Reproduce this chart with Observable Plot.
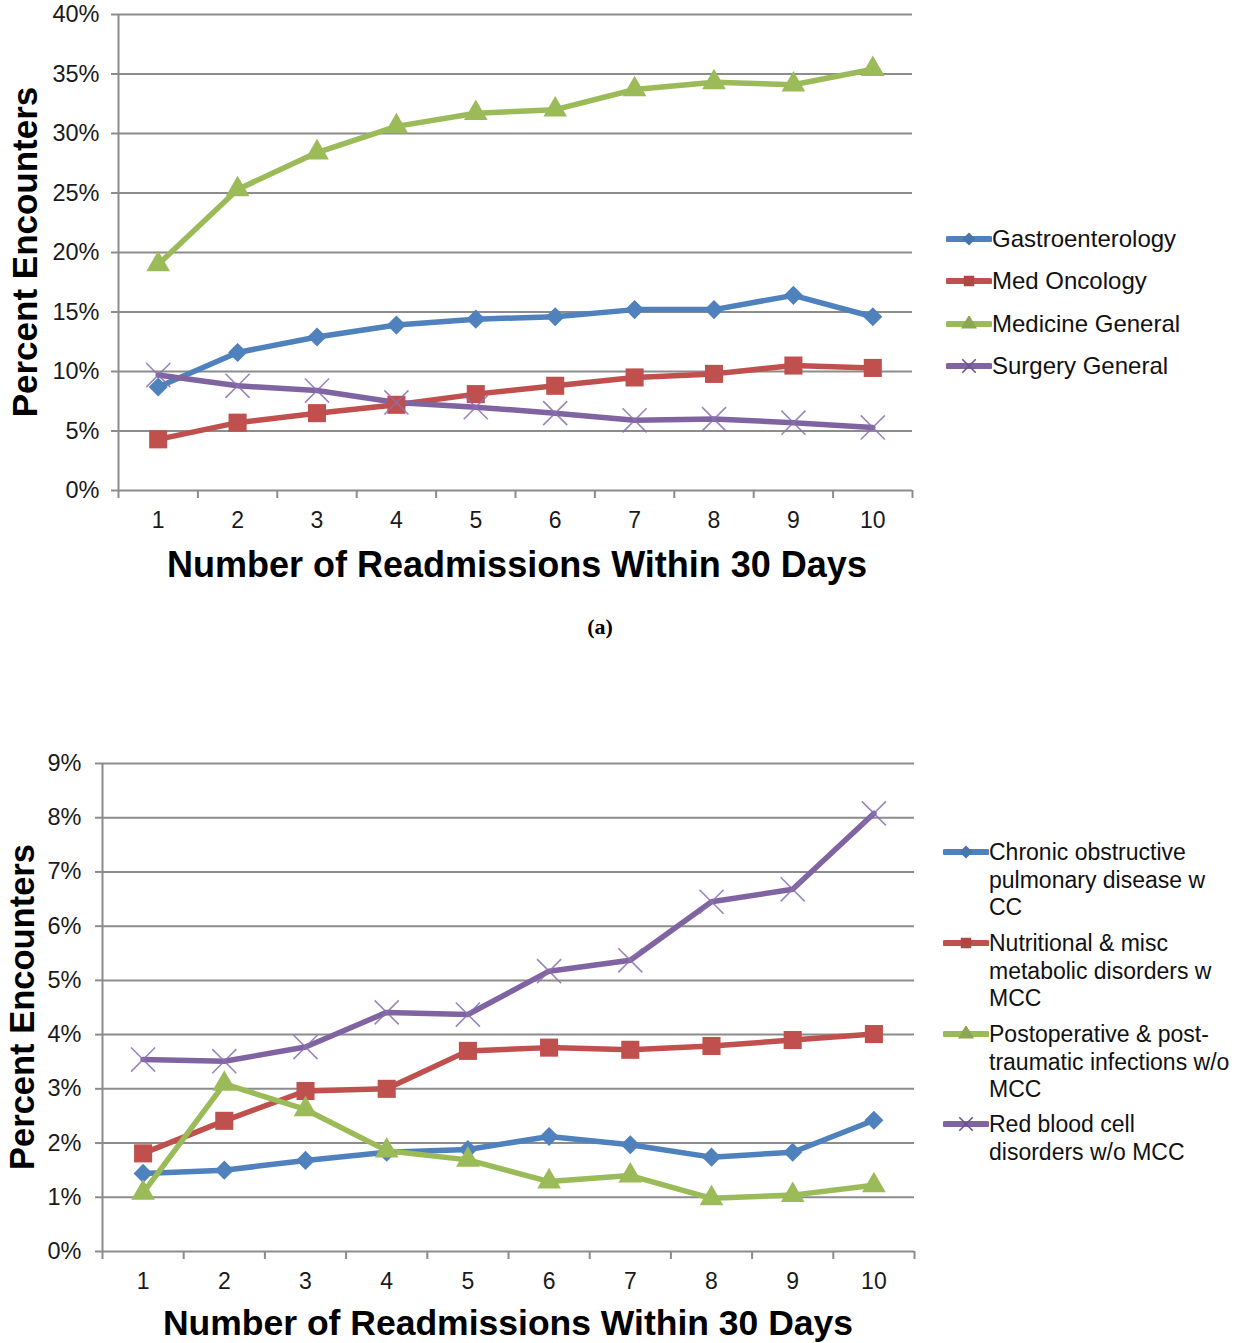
<!DOCTYPE html>
<html><head><meta charset="utf-8">
<script src="https://cdn.jsdelivr.net/npm/d3@7"></script>
<script src="https://cdn.jsdelivr.net/npm/@observablehq/plot@0.6"></script>
<style>
body{margin:0;background:#fff;font-family:"Liberation Sans",Arial,sans-serif;}
#root{position:relative;width:1256px;height:1343px;overflow:hidden;background:#fff;}
.chart{position:absolute;left:0;}
.ytitle{position:absolute;transform:translate(-50%,-50%) rotate(-90deg);white-space:nowrap;font-weight:bold;color:#000;}
.xtitle{position:absolute;transform:translate(-50%,-50%);white-space:nowrap;font-weight:bold;color:#000;}
.leg{position:absolute;display:flex;align-items:flex-start;color:#111;white-space:nowrap;}
.leg svg{flex:none;}
</style></head><body><div id="root"></div>
<script>
// ---------- data ----------
const readmissions = [1, 2, 3, 4, 5, 6, 7, 8, 9, 10];
const colors = ["#4F81BD", "#C0504D", "#9BBB59", "#8064A2"];
const symbols = ["diamond2", "square", "triangle", "times"];

const namesA = ["Gastroenterology", "Med Oncology", "Medicine General", "Surgery General"];
const gastroenterology = [8.7, 11.6, 12.9, 13.9, 14.4, 14.6, 15.2, 15.2, 16.4, 14.6];
const medOncology      = [4.3, 5.7, 6.5, 7.2, 8.1, 8.8, 9.5, 9.8, 10.5, 10.3];
const medicineGeneral  = [19.0, 25.3, 28.4, 30.6, 31.7, 32.0, 33.7, 34.3, 34.1, 35.4];
const surgeryGeneral   = [9.7, 8.8, 8.4, 7.4, 7.0, 6.5, 5.9, 6.0, 5.7, 5.3];
const yTicksA = [0, 5, 10, 15, 20, 25, 30, 35, 40];

const namesB = [
  "Chronic obstructive pulmonary disease w CC",
  "Nutritional & misc metabolic disorders w MCC",
  "Postoperative & post-traumatic infections w/o MCC",
  "Red blood cell disorders w/o MCC"
];
const legendLinesB = [
  ["Chronic obstructive", "pulmonary disease w", "CC"],
  ["Nutritional & misc", "metabolic disorders w", "MCC"],
  ["Postoperative & post-", "traumatic infections w/o", "MCC"],
  ["Red blood cell", "disorders w/o MCC"]
];
const copd        = [1.44, 1.50, 1.68, 1.83, 1.88, 2.12, 1.97, 1.74, 1.83, 2.42];
const nutritional = [1.81, 2.41, 2.96, 3.00, 3.70, 3.76, 3.72, 3.79, 3.90, 4.01];
const postop      = [1.08, 3.09, 2.62, 1.86, 1.69, 1.29, 1.40, 0.98, 1.04, 1.22];
const redBlood    = [3.54, 3.51, 3.77, 4.41, 4.37, 5.17, 5.37, 6.45, 6.68, 8.08];
const yTicksB = [0, 1, 2, 3, 4, 5, 6, 7, 8, 9];

const xTitle = "Number of Readmissions Within 30 Days";
const yTitle = "Percent Encounters";
const subLabel = "(a)";

// ---------- helpers ----------
function toRows(names, series) {
  const rows = [];
  names.forEach((s, i) => series[i].forEach((v, j) => rows.push({s, n: readmissions[j], v})));
  return rows;
}
const boundaries = d3.range(0.5, 11, 1);
const markerR = [8.6, 10.2, 8.8, 11];

function makeChart(names, series, yTicks, m) {
  const data = toRows(names, series);
  const bySeries = i => data.filter(d => d.s === names[i]);
  return Plot.plot({
    width: 1256, height: m.height,
    marginTop: m.top, marginBottom: m.bottom, marginLeft: m.left, marginRight: m.right,
    style: {fontFamily: "'Liberation Sans', Arial, sans-serif", fontSize: "23px", color: "#1a1a1a", background: "transparent", overflow: "visible"},
    x: {type: "linear", domain: [0.5, 10.5]},
    y: {domain: [yTicks[0], yTicks[yTicks.length - 1]]},
    color: {domain: names, range: colors},
    symbol: {domain: names, range: symbols},
    marks: [
      Plot.gridY(yTicks, {stroke: "#8c8c8c", strokeOpacity: 1, strokeWidth: 2}),
      Plot.ruleX([0.5], {stroke: "#8c8c8c", strokeWidth: 2}),
      Plot.axisY(yTicks, {tickFormat: d => d + "%", tickSize: 7, tickPadding: m.ypad, stroke: "#8c8c8c", strokeWidth: 2, label: null, fontSize: 23.5}),
      Plot.axisX(boundaries, {tickSize: 8, tickFormat: () => "", stroke: "#8c8c8c", strokeWidth: 2, label: null}),
      Plot.axisX(readmissions, {tickSize: 0, tickPadding: 21, label: null, fontSize: 23}),
      Plot.line(data, {x: "n", y: "v", z: "s", stroke: "s", strokeWidth: 5.5, strokeLinejoin: "round"}),
      Plot.dot(bySeries(0), {x: "n", y: "v", symbol: "s", fill: "s", r: markerR[0]}),
      Plot.dot(bySeries(1), {x: "n", y: "v", symbol: "s", fill: "s", r: markerR[1]}),
      Plot.dot(bySeries(2), {x: "n", y: "v", symbol: "s", fill: "s", r: markerR[2]}),
      Plot.dot(bySeries(3), {x: "n", y: "v", symbol: "s", stroke: "#8a70b0", strokeWidth: 1.6, strokeOpacity: 0.85, r: markerR[3]})
    ]
  });
}

function iconSvg(i) {
  const ns = "http://www.w3.org/2000/svg";
  const svg = document.createElementNS(ns, "svg");
  svg.setAttribute("width", 46); svg.setAttribute("height", 16);
  const line = document.createElementNS(ns, "line");
  line.setAttribute("x1", 2); line.setAttribute("x2", 44); line.setAttribute("y1", 8); line.setAttribute("y2", 8);
  line.setAttribute("stroke", colors[i]); line.setAttribute("stroke-width", 6); line.setAttribute("stroke-linecap", "round");
  svg.appendChild(line);
  const sym = [d3.symbolDiamond2, d3.symbolSquare, d3.symbolTriangle, d3.symbolTimes][i];
  const p = document.createElementNS(ns, "path");
  p.setAttribute("d", d3.symbol(sym, i === 3 ? 120 : 110)());
  p.setAttribute("transform", "translate(23,8)");
  if (i === 3) { p.setAttribute("stroke", "#6a4f90"); p.setAttribute("fill", "none"); p.setAttribute("stroke-width", 1.5); }
  else { p.setAttribute("fill", d3.color(colors[i]).darker(0.3)); }
  svg.appendChild(p);
  return svg;
}

// ---------- build ----------
const root = document.getElementById("root");

const chartA = makeChart(namesA, [gastroenterology, medOncology, medicineGeneral, surgeryGeneral], yTicksA,
  {height: 540, top: 14, bottom: 50, left: 118, right: 344, ypad: 12});
chartA.classList.add("chart"); chartA.style.top = "0px";
root.appendChild(chartA);

const chartB = makeChart(namesB, [copd, nutritional, postop, redBlood], yTicksB,
  {height: 560, top: 13, bottom: 59, left: 102, right: 342, ypad: 14});
chartB.classList.add("chart"); chartB.style.top = "750px";
root.appendChild(chartB);

function addText(cls, text, x, y, size, extra) {
  const d = document.createElement("div");
  d.className = cls; d.textContent = text;
  d.style.left = x + "px"; d.style.top = y + "px"; d.style.fontSize = size + "px";
  if (extra) Object.assign(d.style, extra);
  root.appendChild(d);
}
addText("ytitle", yTitle, 25, 252, 35);
addText("xtitle", xTitle, 517, 565, 36);
addText("xtitle", subLabel, 600, 627, 22, {fontFamily: "'Liberation Serif', 'Times New Roman', serif"});
addText("ytitle", yTitle, 22, 1007, 34.5);
addText("xtitle", xTitle, 508, 1323, 35.5);

// legend A
const rowA = [239, 281, 324, 366];
namesA.forEach((name, i) => {
  const d = document.createElement("div");
  d.className = "leg";
  d.style.left = "946px"; d.style.top = (rowA[i] - 14) + "px"; d.style.fontSize = "24px"; d.style.lineHeight = "28px";
  const svg = iconSvg(i); svg.style.marginTop = "6px";
  d.appendChild(svg);
  const t = document.createElement("div"); t.textContent = name;
  d.appendChild(t);
  root.appendChild(d);
});

// legend B
const rowB = [853, 944, 1035, 1125];
legendLinesB.forEach((lines, i) => {
  const d = document.createElement("div");
  d.className = "leg";
  d.style.left = "943px"; d.style.top = (rowB[i] - 13.75) + "px"; d.style.fontSize = "23px"; d.style.lineHeight = "27.5px";
  const svg = iconSvg(i); svg.style.marginTop = "5px";
  d.appendChild(svg);
  const t = document.createElement("div"); t.innerHTML = lines.map(s => s.replace(/&/g, "&amp;")).join("<br>");
  d.appendChild(t);
  root.appendChild(d);
});
</script>
</body></html>
